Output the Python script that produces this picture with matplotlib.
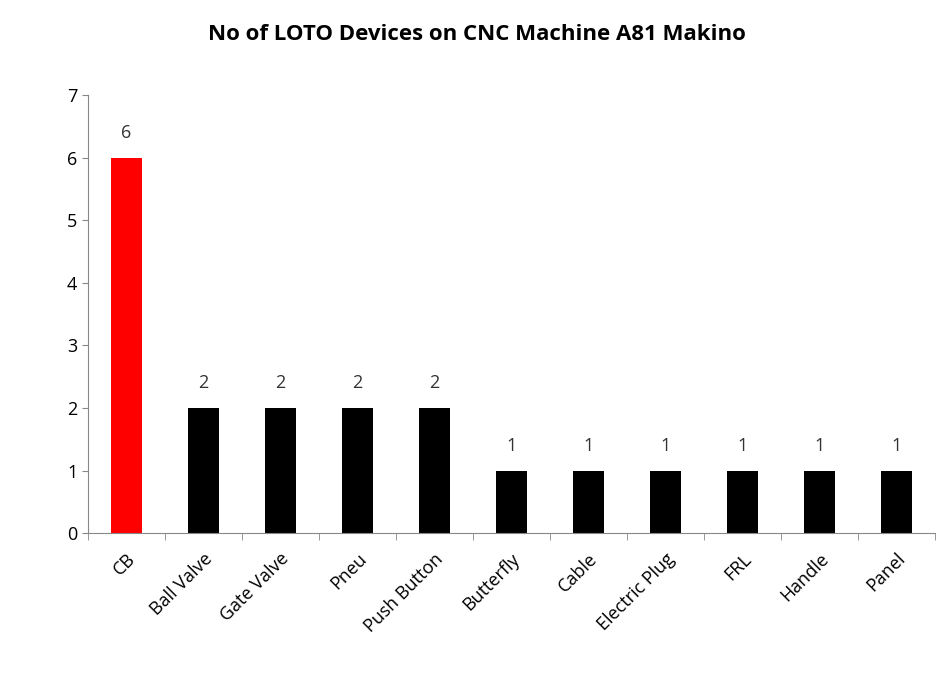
import matplotlib
matplotlib.use("Agg")
import matplotlib.pyplot as plt
import numpy as np

categories = ["CB", "Ball Valve", "Gate Valve", "Pneu", "Push Button", "Butterfly",
              "Cable", "Electric Plug", "FRL", "Handle", "Panel"]
values = [6, 2, 2, 2, 2, 1, 1, 1, 1, 1, 1]
colors = ["#ff0000"] + ["#000000"] * 10

plt.rcParams['font.family'] = ['Open Sans', 'DejaVu Sans']
fig = plt.figure(figsize=(9.53, 6.95), dpi=100)
ax = fig.add_axes([0.092, 0.233, 0.889, 0.63])
x = range(len(categories))
ax.bar(x, values, width=0.4, color=colors)
for i, v in zip(x, values):
    ax.text(i, v + 0.25, str(v), ha="center", va="bottom", fontsize=13, color="#333333")
ax.set_xlim(-0.5, len(categories) - 0.5)
ax.set_ylim(0, 7)
ax.set_yticks(range(8))
ax.set_xticks(list(x))
ax.set_xticks(np.arange(-0.5, len(categories), 1.0), minor=True)
ax.set_xticklabels(categories, rotation=45, ha="right", rotation_mode="anchor", fontsize=13)
ax.tick_params(axis="y", labelsize=13, length=4, color="#888888")
ax.tick_params(axis="x", which="major", length=0, pad=12)
ax.tick_params(axis="x", which="minor", length=5, color="#888888")
for s in ["top", "right"]:
    ax.spines[s].set_visible(False)
ax.spines["left"].set_color("#888888")
ax.spines["bottom"].set_color("#888888")
fig.suptitle("No of LOTO Devices on CNC Machine A81 Makino", y=0.965, fontsize=16, fontweight="bold")
fig.savefig("out.png", dpi=100)
